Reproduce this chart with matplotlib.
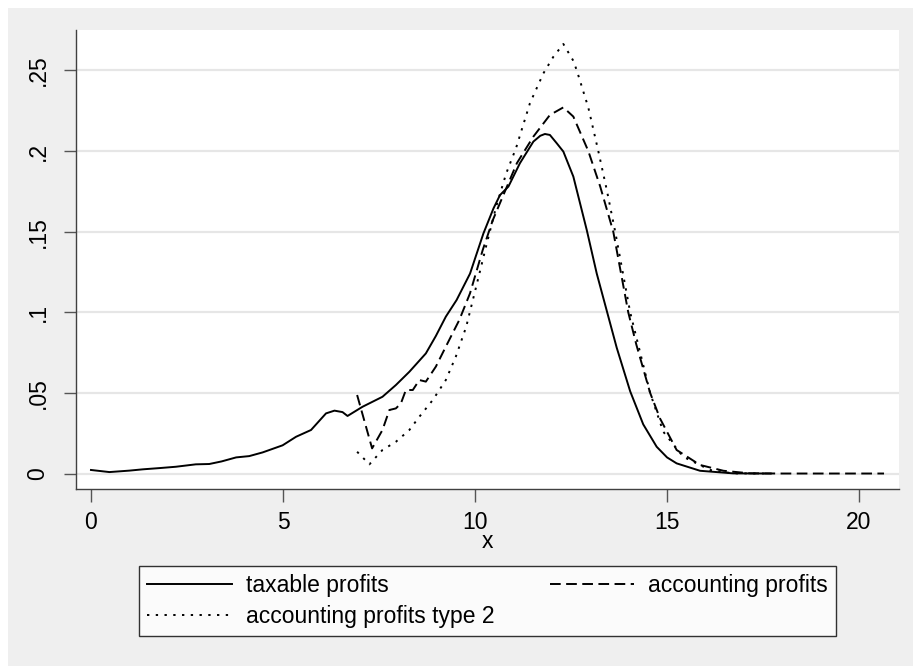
import matplotlib
matplotlib.use("Agg")
import matplotlib.pyplot as plt
from matplotlib.patches import Rectangle

plt.rcParams['font.family'] = ['Liberation Sans', 'DejaVu Sans']

# ---- data ----
x_taxable = [0.0, 0.48, 1.0, 1.35, 1.8, 2.21, 2.73, 3.08, 3.4, 3.78, 4.12, 4.47, 4.99,
             5.34, 5.73, 6.12, 6.34, 6.55, 6.68, 7.07, 7.59, 7.94, 8.29, 8.72, 8.98,
             9.24, 9.52, 9.87, 10.22, 10.48, 10.65, 10.87, 11.17, 11.52, 11.70, 11.82,
             11.95, 12.13, 12.30, 12.56, 12.91, 13.17, 13.43, 13.69, 14.04, 14.38,
             14.73, 15.0, 15.25, 15.86, 16.72, 17.7]
y_taxable = [0.0022, 0.0009, 0.0018, 0.0026, 0.0034, 0.0042, 0.0057, 0.0059, 0.0075,
             0.0100, 0.0108, 0.0131, 0.0175, 0.0228, 0.0270, 0.0373, 0.0390, 0.0381,
             0.0357, 0.0414, 0.0476, 0.0549, 0.0631, 0.0745, 0.0853, 0.0973, 0.1076,
             0.1240, 0.1490, 0.1644, 0.1727, 0.1780, 0.1925, 0.2059, 0.2095, 0.2106,
             0.2100, 0.2048, 0.1997, 0.1842, 0.1510, 0.1240, 0.1010, 0.0780, 0.0510,
             0.0305, 0.0166, 0.0100, 0.0063, 0.0017, 0.0001, 0.0]

x_account = [6.93, 7.32, 7.59, 7.77, 7.94, 8.07, 8.20, 8.38, 8.55, 8.72, 8.98, 9.24,
             9.59, 9.87, 10.20, 10.46, 10.72, 11.09, 11.52, 11.95, 12.30, 12.56, 12.95,
             13.26, 13.60, 13.99, 14.20, 14.56, 14.82, 15.25, 15.86, 16.47, 17.16,
             18.0, 19.0, 20.0, 20.65]
y_account = [0.0487, 0.0156, 0.0270, 0.0394, 0.0404, 0.0435, 0.0518, 0.0518, 0.0580,
             0.0570, 0.0663, 0.0787, 0.0952, 0.1118, 0.1386, 0.1570, 0.1717, 0.1925,
             0.2090, 0.2224, 0.2271, 0.2214, 0.2000, 0.1780, 0.1500, 0.1000, 0.0800,
             0.0500, 0.0340, 0.0146, 0.0053, 0.0017, 0.0001, 0.0, 0.0, 0.0, 0.0]

x_account2 = [6.93, 7.25, 7.59, 7.94, 8.29, 8.55, 8.90, 9.24, 9.50, 9.77, 10.03, 10.30,
              10.55, 10.81, 11.07, 11.43, 11.78, 12.04, 12.30, 12.56, 12.65, 12.95,
              13.21, 13.43, 13.65, 14.04, 14.30, 14.56, 14.90, 15.42, 16.12, 16.72, 17.7]
y_account2 = [0.0135, 0.0057, 0.0146, 0.0197, 0.0270, 0.0352, 0.0456, 0.0580, 0.0725,
              0.0910, 0.1159, 0.1420, 0.1655, 0.1860, 0.2020, 0.2297, 0.2482, 0.2585,
              0.2664, 0.2560, 0.2500, 0.2270, 0.2000, 0.1760, 0.1500, 0.1000, 0.0750,
              0.0500, 0.0260, 0.0104, 0.0022, 0.0001, 0.0]

labels = ['taxable profits', 'accounting profits', 'accounting profits type 2']
x_ticks = [0, 5, 10, 15, 20]
y_ticks = [0, 0.05, 0.10, 0.15, 0.20, 0.25]
y_ticklabels = ['0', '.05', '.1', '.15', '.2', '.25']

# ---- figure ----
W, H = 913, 666
fig = plt.figure(figsize=(W / 100, H / 100), dpi=100, facecolor='white')
bg = '#efefef'
fig.patches.append(Rectangle((8 / W, 0), 1 - 8 / W, 1 - 8 / H, transform=fig.transFigure,
                             facecolor=bg, edgecolor='none', zorder=-10))

ax = fig.add_axes([76 / W, 1 - 489 / H, (899 - 76) / W, (489 - 30) / H])
ax.set_facecolor('white')

fs = 16.5
lw = 1.4
l1, = ax.plot(x_taxable, y_taxable, color='black', lw=lw, linestyle='-',
              solid_joinstyle='round', label=labels[0])
l2, = ax.plot(x_account, y_account, color='black', lw=lw, linestyle=(0, (5.5, 2.8)),
              label=labels[1])
l3, = ax.plot(x_account2, y_account2, color='black', lw=lw, linestyle=(0, (1.2, 3.3)),
              label=labels[2])

ax.set_xlim(-0.39, 21.04)
ax.set_ylim(-0.0096, 0.2751)

ax.set_xticks(x_ticks)
ax.set_xticklabels([str(v) for v in x_ticks])
ax.set_yticks(y_ticks)
ax.set_yticklabels(y_ticklabels, rotation=90, va='center')

ax.grid(axis='y', color='#e6e6e6', lw=1.6)
ax.set_axisbelow(True)
ax.tick_params(axis='both', length=9, width=1.0, color='#555555', labelsize=fs,
               labelcolor='black')
ax.tick_params(axis='y', pad=10)
ax.tick_params(axis='x', pad=7)

for s in ['top', 'right']:
    ax.spines[s].set_visible(False)
for s in ['left', 'bottom']:
    ax.spines[s].set_color('#404040')
    ax.spines[s].set_linewidth(1.0)

ax.set_xlabel('x', fontsize=fs, labelpad=-3)

# column-major fill: col 1 = taxable, type 2 ; col 2 = accounting
leg = fig.legend(handles=[l1, l3, l2], labels=[labels[0], labels[2], labels[1]],
                 ncol=2, fontsize=fs,
                 bbox_to_anchor=(139 / W, 1 - 639 / H, (836 - 139) / W, (639 - 563) / H),
                 loc='center', mode='expand', frameon=True, fancybox=False,
                 handlelength=3.7, handletextpad=0.6, labelspacing=0.35,
                 borderpad=0.35, borderaxespad=0, columnspacing=1.0)
leg.get_frame().set_edgecolor('black')
leg.get_frame().set_linewidth(1.0)
leg.get_frame().set_facecolor('white')

fig.savefig('out.png', dpi=100, facecolor=fig.get_facecolor())
